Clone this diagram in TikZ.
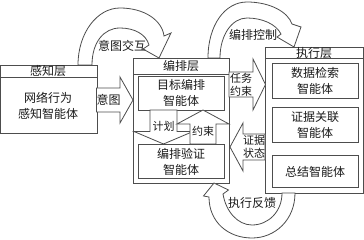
\documentclass[tikz,border=0pt]{standalone}
\usepackage{fontspec}
\setmainfont{Noto Sans CJK SC}
\usetikzlibrary{calc}
\definecolor{ln}{HTML}{4D4D4D}
\definecolor{tx}{HTML}{1A1A1A}
\begin{document}
\begin{tikzpicture}[x=1pt,y=-1pt,
  box/.style={draw=ln, line width=0.8pt, fill=white, inner sep=0pt, anchor=north west},
  sepline/.style={draw=ln, line width=0.8pt},
  lbl/.style={text=tx, font=\fontsize{12}{16}\selectfont, align=center, inner sep=0pt},
  slbl/.style={text=tx, font=\fontsize{11}{12.5}\selectfont, align=center, inner sep=0pt},
  barrow/.style={draw=ln, line width=0.8pt, fill=white, line join=miter}]
\useasboundingbox (0,0) rectangle (364,240);

% perception layer
\node[box, minimum width=96.5pt, minimum height=68pt] (perc) at (0,65) {};
\draw[sepline] ($(perc.north west)+(0,12)$) -- ($(perc.north east)+(0,12)$);
\node[lbl] (percT) at (48,71) {感知层};
\node[lbl] (percA) at (48,106) {网络行为\\感知智能体};

% orchestration layer
\node[box, minimum width=96pt, minimum height=125pt] (orch) at (133,58) {};
\draw[sepline] ($(orch.north west)+(0,16)$) -- ($(orch.north east)+(0,16)$);
\node[lbl] (orchT) at (181,66) {编排层};
\node[box, minimum width=86pt, minimum height=34pt] (goal) at (138,76) {};
\node[lbl] (goalT) at (181,92.5) {目标编排\\智能体};
\node[box, minimum width=86pt, minimum height=34pt] (verify) at (138,144) {};
\node[lbl] (verifyT) at (181,162) {编排验证\\智能体};

% execution layer
\node[box, minimum width=97.5pt, minimum height=146pt] (exec) at (265,47) {};
\draw[sepline] ($(exec.north west)+(0,11)$) -- ($(exec.north east)+(0,11)$);
\node[lbl] (execT) at (314,52.5) {执行层};
\node[box, minimum width=86pt, minimum height=35pt] (ret) at (272,63) {};
\node[lbl] (retT) at (315,81) {数据检索\\智能体};
\node[box, minimum width=86pt, minimum height=35pt] (evid) at (272,107) {};
\node[lbl] (evidT) at (315,125) {证据关联\\智能体};
\node[box, minimum width=86pt, minimum height=32pt] (summ) at (272,155) {};
\node[lbl] (summT) at (315,171.5) {总结智能体};

% straight block arrows
\draw[barrow] (96.5,88) -- (120,88) -- (120,77) -- (133,100) -- (120,123) -- (120,112) -- (96.5,112) -- cycle;
\node[lbl] (intentL) at (108.5,100) {意图};

\draw[barrow] (229,72) -- (253,72) -- (253,59) -- (265.5,84.5) -- (253,110) -- (253,97) -- (229,97) -- cycle;
\node[slbl] (taskL) at (241,85) {任务\\约束};

\draw[barrow] (265,134) -- (243,134) -- (243,123) -- (230,147) -- (243,171) -- (243,160) -- (265,160) -- cycle;
\node[slbl] (evL) at (254,147) {证据\\状态};

% inner arrows
\draw[barrow] (150,110) -- (177,110) -- (177,131.5) -- (193,131.5) -- (163.5,144) -- (134,131.5) -- (150,131.5) -- cycle;
\node[slbl] (planL) at (163.5,126) {计划};
\draw[barrow] (190,144) -- (190,124) -- (177,124) -- (203,110) -- (229,124) -- (216,124) -- (216,144) -- cycle;
\node[slbl] (consL) at (203,131) {约束};

% curved arrows
\draw[barrow] (78,65) .. controls (78,33) and (97,8) .. (120,8) .. controls (144,8) and (162,20) .. (164,36) -- (171,33) -- (159,58) -- (143,49) -- (149,45) .. controls (146,34) and (134,28) .. (120,28) .. controls (104,28) and (92,42) .. (92,65) -- cycle;
\node[lbl] (interL) at (122,46) {意图交互};

\draw[barrow] (208,58) .. controls (208,25) and (225,2) .. (247,2) .. controls (270,2) and (288,12) .. (292,24) -- (301,27) -- (294,47) -- (277,37) -- (281,34) .. controls (276,24) and (262,18) .. (247,18) .. controls (232,18) and (220,35) .. (220,58) -- cycle;
\node[lbl] (ctrlL) at (253,35) {编排控制};

\draw[barrow] (295,193) .. controls (295,220) and (275,238) .. (252,238) .. controls (228,238) and (209,222) .. (209,197) -- (203.5,196) -- (214,183) -- (228.5,190) -- (223,194) .. controls (226,212) and (238,225) .. (252,225) .. controls (268,225) and (282,212) .. (282,193) -- cycle;
\node[lbl] (fbL) at (252,203) {执行反馈};
\end{tikzpicture}
\end{document}
